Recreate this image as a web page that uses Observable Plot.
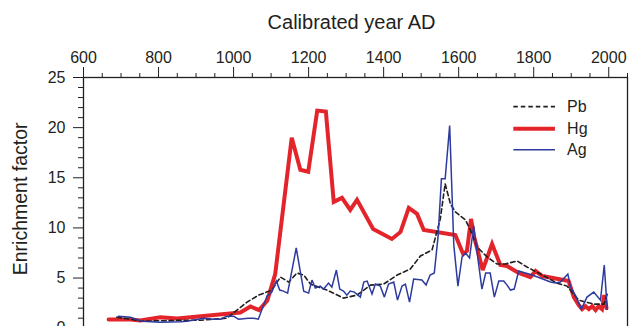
<!DOCTYPE html>
<html><head><meta charset="utf-8">
<script src="https://cdn.jsdelivr.net/npm/d3@7"></script>
<script src="https://cdn.jsdelivr.net/npm/@observablehq/plot@0.6"></script>
<style>html,body{margin:0;padding:0;overflow:hidden;background:#fff}</style>
</head><body><div id="chart"></div>
<script>
// ---- data ----
const hgYears  = [667,725,751,805,850,1018,1045,1068,1090,1111,1155,1178,1199,1223,1246,1267,1289,1311,1329,1372,1422,1445,1467,1489,1507,1591,1612,1622,1633,1640,1664,1689,1711,1729,1760,1791,1805,1823,1880,1893,1907,1920,1929,1938,1947,1956,1965,1973,1982,1988,1994];
const hgValues = [0.87,0.87,0.77,1.1,0.97,1.57,2.17,1.8,2.77,5.4,19.0,15.8,15.6,21.7,21.6,12.6,13.0,11.8,12.8,9.9,8.9,9.6,12.0,11.4,9.8,9.3,7.4,7.7,10.9,9.3,5.8,8.4,6.3,6.2,5.5,5.1,5.7,5.2,4.8,4.7,3.1,2.3,1.9,2.2,1.9,2.2,1.8,2.2,1.9,3.3,2.0];

const pbYears  = [689,756,876,913,982,1009,1036,1067,1102,1125,1147,1169,1187,1205,1249,1293,1329,1365,1400,1436,1471,1498,1529,1551,1564,1578,1591,1618,1631,1649,1676,1702,1724,1756,1782,1818,1862,1889,1920,1960,1987,1996];
const pbValues = [1.1,0.7,0.8,0.8,1.0,1.8,2.6,3.3,3.8,5.1,4.6,5.5,5.3,4.4,3.8,3.0,3.3,4.3,4.4,5.3,5.9,7.2,7.8,10.9,14.4,12.4,11.6,10.8,9.8,8.1,7.1,6.4,6.4,6.7,6.1,5.4,4.5,4.2,2.8,2.4,2.4,3.4];

const agYears  = [693,725,756,805,858,876,920,946,965,982,1000,1013,1039,1053,1066,1089,1102,1114,1123,1133,1144,1167,1187,1200,1209,1218,1231,1240,1253,1262,1274,1283,1293,1302,1311,1322,1338,1347,1356,1369,1378,1391,1402,1413,1427,1437,1449,1458,1469,1480,1502,1513,1524,1535,1545,1554,1564,1576,1587,1598,1609,1618,1629,1640,1651,1662,1672,1684,1695,1707,1720,1729,1738,1748,1760,1778,1796,1845,1858,1871,1891,1898,1911,1927,1942,1960,1978,1988,1996];
const agValues = [1.2,1.1,0.7,0.6,0.65,0.7,1.0,0.9,0.9,1.2,1.2,0.9,1.0,1.0,0.9,3.2,3.6,4.7,3.8,3.7,3.5,8.0,3.7,3.5,4.8,4.0,4.2,3.9,4.5,4.1,5.8,3.9,3.7,3.3,3.7,3.6,3.1,4.6,4.7,3.4,4.4,4.2,3.1,4.4,4.6,2.8,4.2,4.4,2.6,4.9,4.8,4.3,5.3,5.5,9.1,14.9,14.9,20.2,8.3,4.2,7.1,7.5,7.0,10.2,7.0,3.9,5.5,5.5,3.1,4.7,4.7,4.3,3.8,3.9,5.7,5.5,5.3,4.6,4.5,4.6,5.4,4.1,3.3,1.9,3.1,3.6,2.8,6.3,1.9];

const seriesNames = ["Pb", "Hg", "Ag"];
const xMajorTicks = [600, 800, 1000, 1200, 1400, 1600, 1800, 2000];
const yMajorTicks = [0, 5, 10, 15, 20, 25];
const xTitle = "Calibrated year AD";
const yTitle = "Enrichment factor";

// ---- styles / layout ----
const styles = {
  Pb: {stroke: "#231f20", strokeWidth: 1.6, strokeDasharray: "4.5,3"},
  Hg: {stroke: "#e3252b", strokeWidth: 4},
  Ag: {stroke: "#2d3a9e", strokeWidth: 1.5}
};
const legendLayout = {x1: 1747, x2: 1858, xText: 1889, y: [22.1, 19.9, 17.8]};
const ink = "#231f20";
const font = "'Liberation Sans', Arial, Helvetica, sans-serif";

const rows = (years, values, s) => years.map((year, i) => ({year, value: values[i], series: s}));
const data = {Pb: rows(pbYears, pbValues, "Pb"), Hg: rows(hgYears, hgValues, "Hg"), Ag: rows(agYears, agValues, "Ag")};
const legendRows = seriesNames.map((s, i) => ({series: s, y: legendLayout.y[i]}));

const xMinorTicks = d3.range(600, 2051, 50).filter(v => !xMajorTicks.includes(v));
const yMinorTicks = d3.range(0, 26, 1).filter(v => !yMajorTicks.includes(v));

const drawOrder = ["Hg", "Pb", "Ag"];

const chart = Plot.plot({
  width: 630, height: 334,
  marginTop: 77, marginLeft: 83, marginRight: 3, marginBottom: 6.3,
  style: {fontFamily: font, fontSize: "16px", color: ink, background: "#fff", overflow: "visible"},
  x: {domain: [600, 2050], label: null},
  y: {domain: [0, 25], label: null},
  marks: [
    Plot.axisX({anchor: "top", ticks: xMinorTicks, tickSize: 5, tickFormat: () => "", label: null, stroke: ink}),
    Plot.axisX({anchor: "top", ticks: xMajorTicks, tickSize: 11, tickPadding: 4, tickFormat: d => String(d), label: null, stroke: ink, fontSize: 16}),
    Plot.axisY({anchor: "left", ticks: yMinorTicks, tickSize: 5, tickFormat: () => "", label: null, stroke: ink}),
    Plot.axisY({anchor: "left", ticks: yMajorTicks, tickSize: 10, tickPadding: 8, label: null, stroke: ink, fontSize: 16}),
    Plot.frame({stroke: ink, strokeWidth: 1.3}),
    Plot.text([xTitle], {frameAnchor: "top", dx: -4, dy: -55, fontSize: 20, fill: ink, textAnchor: "middle", lineAnchor: "middle"}),
    Plot.text([yTitle], {frameAnchor: "left", dx: -62.5, dy: -4, rotate: -90, fontSize: 19.5, fill: ink, textAnchor: "middle", lineAnchor: "middle"}),
    ...drawOrder.map(s => Plot.line(data[s], {x: "year", y: "value", ...styles[s], strokeLinejoin: "miter", strokeMiterlimit: 3})),
    ...seriesNames.map(s => Plot.ruleY(legendRows.filter(d => d.series === s), {x1: legendLayout.x1, x2: legendLayout.x2, y: "y", ...styles[s]})),
    Plot.text(legendRows, {x: legendLayout.xText, y: "y", text: "series", textAnchor: "start", lineAnchor: "middle", fontSize: 16, fill: ink})
  ]
});
document.getElementById("chart").appendChild(chart);
</script>
</body></html>
